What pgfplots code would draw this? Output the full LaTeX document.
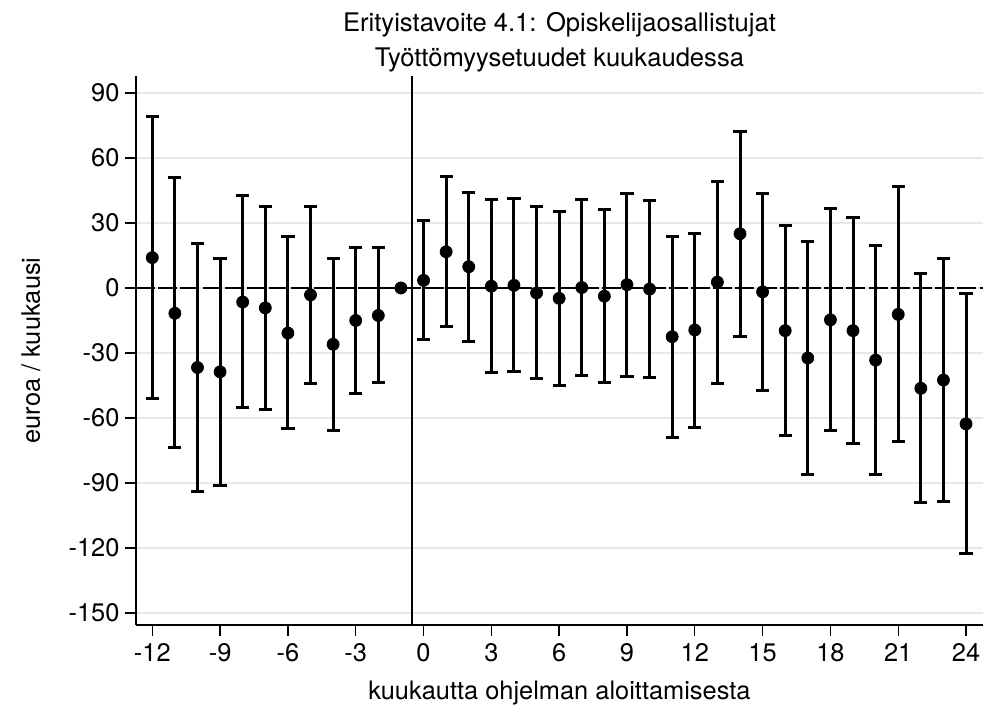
\documentclass[border=0pt]{standalone}
\usepackage{pgfplots}
\pgfplotsset{compat=1.18}
\usepackage{pgfplotstable}
\usepackage{fontspec}
\setmainfont{TeX Gyre Heros}
\pgfplotstableread{
x y lo hi
-12 14 -50.8 79
-11 -11.7 -73.7 50.8
-10 -36.7 -93.7 20.5
-9 -38.7 -91.2 13.8
-8 -6.5 -55.2 42.5
-7 -9.2 -56 37.8
-6 -20.8 -64.8 23.7
-5 -3.2 -44 37.8
-4 -26 -65.8 13.8
-3 -15 -48.5 18.8
-2 -12.7 -43.7 18.8
0 3.5 -23.8 31.2
1 16.7 -18 51.5
2 9.8 -24.7 44.2
3 0.8 -38.8 40.7
4 1.2 -38.5 41.3
5 -2.3 -41.8 37.5
6 -4.8 -45.2 35.3
7 0.2 -40.3 40.8
8 -3.8 -43.8 36.2
9 1.5 -40.8 43.5
10 -0.5 -41.3 40.2
11 -22.5 -68.8 23.7
12 -19.4 -64.3 25.2
13 2.7 -44 49.3
14 25 -22.5 72.3
15 -1.8 -47.3 43.8
16 -19.7 -68.2 28.7
17 -32.3 -86 21.5
18 -14.7 -65.8 36.8
19 -19.7 -71.8 32.7
20 -33.3 -86 19.5
21 -12.2 -70.8 46.8
22 -46.3 -99.2 6.7
23 -42.5 -98.5 13.7
24 -62.7 -122.3 -2.7
}\est
\begin{document}
\begin{tikzpicture}
\useasboundingbox (-68pt,-42.5pt) rectangle (430pt,312.5pt);
\begin{axis}[
  at={(0pt,0pt)}, anchor=south west,
  scale only axis, width=423.5pt, height=274.5pt,
  xmin=-12.72, xmax=24.75, ymin=-155.5, ymax=97.8,
  axis lines*=left, axis line style={-, line width=0.7pt},
  tick align=outside, major tick length=5.5pt,
  every tick/.style={black, line width=0.7pt},
  xtick={-12,-9,...,24}, ytick={-150,-120,...,90},
  ymajorgrids, major grid style={draw=black!9, line width=0.9pt},
  /pgf/number format/assume math mode=true,
  tick label style={font=\fontsize{12.7}{15}\selectfont},
  x tick label style={inner sep=0pt, yshift=-3.5pt},
  y tick label style={inner sep=0pt, xshift=-2.6pt},
  xlabel={kuukautta ohjelman aloittamisesta},
  ylabel={euroa / kuukausi},
  label style={font=\fontsize{12.7}{15}\selectfont},
  xlabel style={at={(axis description cs:0.5,-0.13661)}, anchor=base, inner sep=0pt},
  ylabel style={at={(axis description cs:-0.11334,0.5)}, anchor=base, inner sep=0pt, rotate=0},
  title={Erityistavoite 4.1: Opiskelijaosallistujat\\Työttömyysetuudet kuukaudessa},
  title style={font=\fontsize{12.8}{17.3}\selectfont, align=center, anchor=south, inner sep=0pt, at={(axis description cs:0.5,1)}, yshift=-4pt},
  clip=false,
]
\addplot[black, line width=0.6pt, dash pattern=on 9.5pt off 1.6pt, forget plot] coordinates {(-12.72,0) (24.75,0)};
\addplot[black, line width=1pt, forget plot] coordinates {(-0.5,-155.5) (-0.5,97.8)};
\addplot[black, only marks, mark=*, mark size=3pt,
  error bars/.cd, y dir=both, y explicit,
  error bar style={line width=1.5pt, black},
  error mark options={rotate=90, mark size=3.3pt, line width=1.5pt, black}]
  table[x=x, y=y, y error plus expr=\thisrow{hi}-\thisrow{y}, y error minus expr=\thisrow{y}-\thisrow{lo}] {\est};
\addplot[black, only marks, mark=*, mark size=3pt] coordinates {(-1,0)};
\end{axis}
\end{tikzpicture}
\end{document}
